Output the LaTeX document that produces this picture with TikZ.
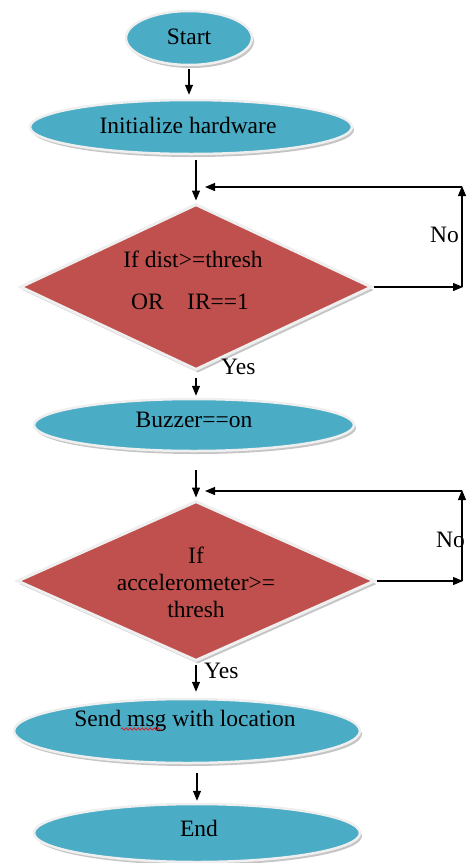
\documentclass[tikz,border=0pt]{standalone}
\usepackage{fontspec}
\setmainfont{Liberation Serif}
\usetikzlibrary{shapes.geometric,arrows.meta,shadows,decorations.pathmorphing}
\definecolor{oval}{HTML}{4BACC6}
\definecolor{dia}{HTML}{C0504D}
\definecolor{rim}{HTML}{EFEFEF}
\tikzset{
  oval/.style={ellipse, fill=oval, draw=rim, line width=2.5pt, inner sep=0pt,
    drop shadow={shadow xshift=2pt, shadow yshift=-3pt, fill=black!45}},
  dec/.style={diamond, fill=dia, draw=rim, line width=3pt, inner sep=0pt,
    drop shadow={shadow xshift=2pt, shadow yshift=-3pt, fill=black!45}},
  txt/.style={font=\fontsize{23.5}{27}\selectfont, inner sep=0pt, align=center, text=black},
  arr/.style={line width=1.2pt, -{Triangle[length=10pt,width=8pt]}},
  squiggle/.style={red, line width=0.6pt, decorate, decoration={snake, amplitude=1.2pt, segment length=4pt}},
}
\begin{document}
\begin{tikzpicture}[x=1pt,y=-1pt]
\useasboundingbox (0,0) rectangle (468,863);
% shapes
\node[oval, minimum width=126pt, minimum height=54pt] (start) at (189,38) {};
\node[oval, minimum width=322pt, minimum height=54pt] (init) at (191,127) {};
\node[dec, minimum width=352pt, minimum height=166pt] (d1) at (196,287) {};
\node[oval, minimum width=320pt, minimum height=52pt] (buzz) at (194,425) {};
\node[dec, minimum width=358pt, minimum height=160pt] (d2) at (196,581) {};
\node[oval, minimum width=346pt, minimum height=64pt] (send) at (187,731) {};
\node[oval, minimum width=326pt, minimum height=58pt] (end) at (197,833) {};
% texts
\node[txt] (tstart) at (189,37) {Start};
\node[txt] (tinit) at (188,125) {Initialize hardware};
\node[txt] (td1a) at (193,259) {If dist>=thresh};
\node[txt] (td1b) at (190,302) {OR\quad IR==1};
\node[txt] (td2) at (196,582) {If\\accelerometer>=\\thresh};
\node[txt] (tbuzz) at (194,420) {Buzzer==on};
\node[txt] (tsend) at (185,721) {Send msg with location};
\node[txt] (tend) at (199,828) {End};
\coordinate (sq1) at (121,729);
\coordinate (sq2) at (162,729);
\draw[squiggle] (sq1) -- (sq2);
% labels
\node[txt, anchor=west] (no1) at (430,235) {No};
\node[txt, anchor=west] (yes1) at (221,367) {Yes};
\node[txt, anchor=west] (no2) at (436,540) {No};
\node[txt, anchor=west] (yes2) at (204,671) {Yes};
% connectors
\coordinate (a1) at (462,287);
\coordinate (a2) at (462,187);
\coordinate (a3) at (205,187);
\coordinate (b1) at (462,581);
\coordinate (b2) at (462,491);
\coordinate (b3) at (205,491);
\draw[arr, shorten <=3pt, shorten >=4pt] (start.south) -- (start.south |- init.north);
\draw[arr, shorten <=5pt, shorten >=2pt] (init.south -| d1.north) -- (d1.north);
\draw[arr, shorten >=-1pt] (d1.east) -- (a1);
\draw[arr, shorten >=-1pt] (a1) -- (a2);
\draw[arr] (a2) -- (a3);
\draw[arr, shorten <=6pt, shorten >=2pt] (d1.south) -- (d1.south |- buzz.north);
\draw[arr, shorten <=18pt, shorten >=2pt] (buzz.south -| d2.north) -- (d2.north);
\draw[arr, shorten >=-1pt] (d2.east) -- (b1);
\draw[arr, shorten >=-1pt] (b1) -- (b2);
\draw[arr] (b2) -- (b3);
\draw[arr, shorten <=2pt, shorten >=6pt] (d2.south) -- (d2.south |- send.north);
\draw[arr, shorten <=9pt, shorten >=2pt] (send.south -| end.north) -- (end.north);
\end{tikzpicture}
\end{document}
